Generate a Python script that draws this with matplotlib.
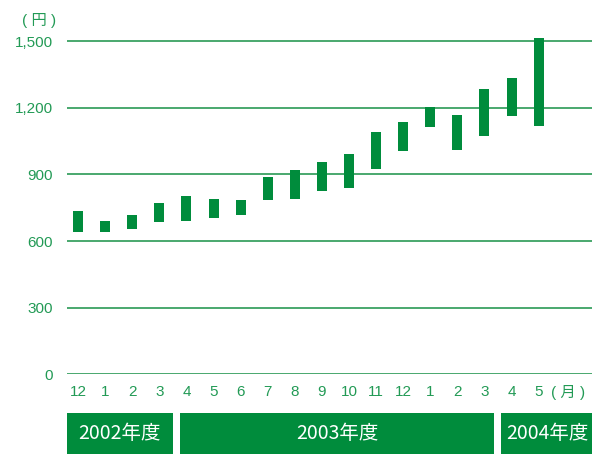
import matplotlib
matplotlib.use("Agg")
import matplotlib.pyplot as plt
import matplotlib.transforms as mtransforms
from matplotlib.patches import Rectangle

# データ（月別の株価レンジ：安値・高値）
months = ["12", "1", "2", "3", "4", "5", "6", "7", "8", "9",
          "10", "11", "12", "1", "2", "3", "4", "5"]
lows = [642, 642, 654, 687, 691, 705, 718, 786, 790, 826,
        840, 925, 1006, 1114, 1011, 1074, 1164, 1119]
highs = [735, 690, 717, 771, 802, 789, 784, 888, 920, 955,
         991, 1090, 1135, 1203, 1167, 1284, 1333, 1513]
yticks = [0, 300, 600, 900, 1200, 1500]
years = ["2002年度", "2003年度", "2004年度"]
year_spans = [(-0.42, 3.5), (3.76, 15.36), (15.62, 19.0)]

green = "#008c3c"
text_green = "#229a55"
grid_green = "#2a9a55"

plt.rcParams['font.family'] = ['Liberation Sans', 'Noto Sans CJK JP', 'DejaVu Sans']

fig = plt.figure(figsize=(5.92, 4.54), dpi=100)
ax = fig.add_axes([0.1132, 0.1755, 0.8868, 0.7826])

x = list(range(len(months)))
heights = [h - l for h, l in zip(highs, lows)]
ax.bar(x, heights, bottom=lows, width=0.37, color=green, zorder=3)

ax.set_xlim(-0.41, 18.97)
ax.set_ylim(0, 1600)

for yv in yticks:
    ax.axhline(yv, color=grid_green, lw=1.2, zorder=1)

ax.set_yticks(yticks)
ax.set_yticklabels([f"{v:,}" for v in yticks], fontsize=11, color=text_green)
ax.set_xticks(x)
ax.set_xticklabels(months, fontsize=11, color=text_green)
ax.tick_params(axis="both", length=0)
ax.tick_params(axis="y", pad=10)
ax.tick_params(axis="x", pad=8)

for s in ax.spines.values():
    s.set_visible(False)

trans = mtransforms.blended_transform_factory(ax.transData, ax.transAxes)

# 単位
fig.text(39 / 592, 1 - 20 / 454, "( 円 )", fontsize=11, color=text_green,
         va="center", ha="center")
ax.text(18.1, -0.05, "( 月 )", transform=trans,
        fontsize=11, color=text_green, va="center", ha="center")

# 年度の帯
for label, (x0, x1) in zip(years, year_spans):
    r = Rectangle((x0, -0.224), x1 - x0, 0.116, transform=trans,
                  facecolor=green, edgecolor="none", clip_on=False)
    ax.add_patch(r)
    ax.text((x0 + x1) / 2, -0.166, label, transform=trans, ha="center", va="center",
            color="white", fontsize=14, family=['Noto Sans CJK JP'])

fig.savefig("out.png", dpi=100)
